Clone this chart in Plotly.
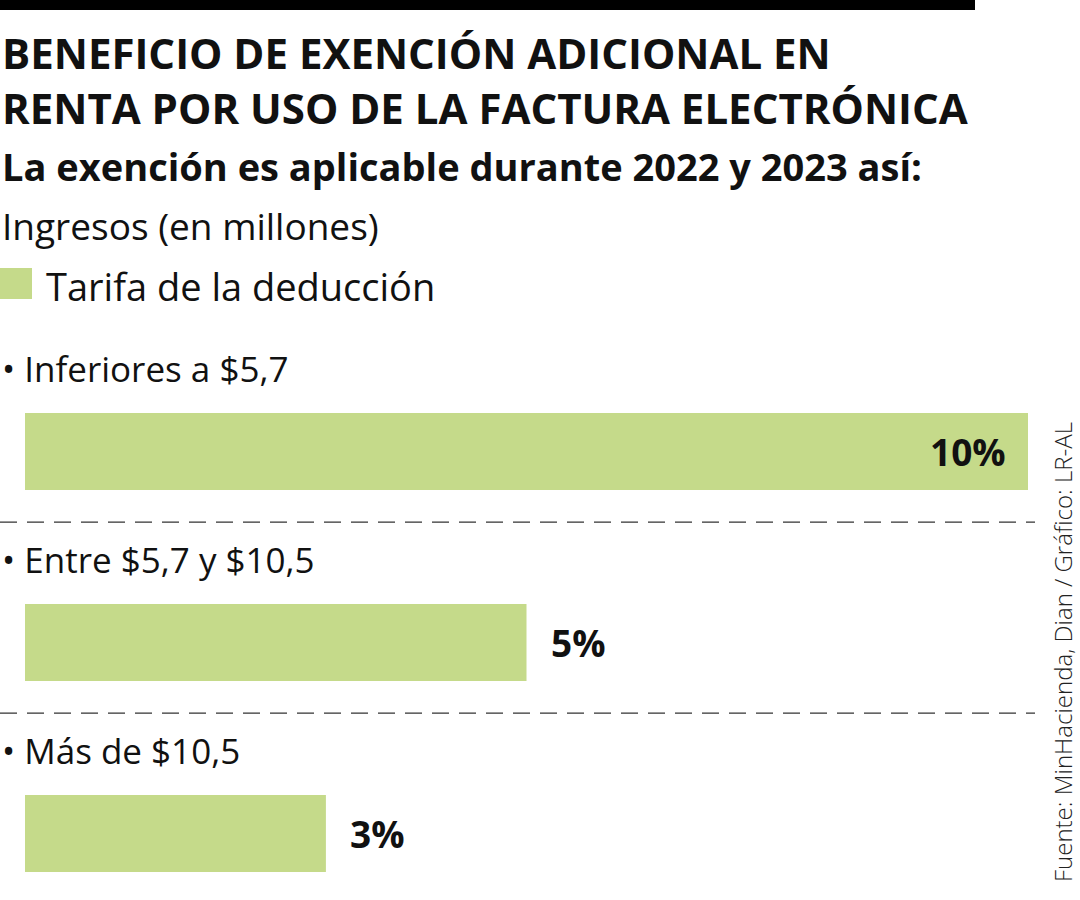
import plotly.graph_objects as go

# datos del grafico
categorias = ['• Inferiores a $5,7', '• Entre $5,7 y $10,5', '• Más de $10,5']
tarifas = [10, 5, 3]
etiquetas = ['10%', '5%', '3%']

VERDE = '#c5da8a'
W, H = 1080, 900
L, R, T, B = 25, 52, 356, 0  # margenes en px


def px_x(px):  # pixel horizontal -> paper
    return (px - L) / (W - L - R)


def px_y(py):  # pixel vertical -> paper
    return (H - B - py) / (H - T - B)


fig = go.Figure(go.Bar(
    x=tarifas,
    y=list(range(len(categorias))),
    orientation='h',
    width=0.403,
    marker=dict(color=VERDE, line=dict(width=0)),
    hoverinfo='skip'))

anotaciones = []
for i, (cat, val, lab) in enumerate(zip(categorias, tarifas, etiquetas)):
    # etiqueta de categoria sobre cada barra
    anotaciones.append(dict(x=0, y=i, xref='x', yref='y', text=cat, showarrow=False,
                            xanchor='left', yanchor='middle', xshift=-25, yshift=83,
                            font=dict(family='Open Sans', size=35, color='#111')))
    # valor: dentro de la barra si es la mas larga
    if val == max(tarifas):
        anotaciones.append(dict(x=val, y=i, xref='x', yref='y', text='<b>' + lab + '</b>',
                                showarrow=False, xanchor='right', xshift=-20,
                                font=dict(family='Open Sans', size=37, color='#111')))
    else:
        anotaciones.append(dict(x=val, y=i, xref='x', yref='y', text='<b>' + lab + '</b>',
                                showarrow=False, xanchor='left', xshift=22,
                                font=dict(family='Open Sans', size=37, color='#111')))

textos = [
    ('<b>BENEFICIO DE EXENCIÓN ADICIONAL EN<br>RENTA POR USO DE LA FACTURA ELECTRÓNICA</b>', 80, 42),
    ('<b>La exención es aplicable durante 2022 y 2023 así:</b>', 166, 38),
    ('Ingresos (en millones)', 225, 37),
]
for txt, py, size in textos:
    anotaciones.append(dict(x=px_x(0), y=px_y(py), xref='paper', yref='paper', text=txt,
                            showarrow=False, xanchor='left', yanchor='middle', align='left',
                            font=dict(family='Open Sans', size=size, color='#111')))

anotaciones.append(dict(x=px_x(44), y=px_y(286), xref='paper', yref='paper',
                        text='Tarifa de la deducción', showarrow=False,
                        xanchor='left', yanchor='middle',
                        font=dict(family='Open Sans', size=38, color='#111')))

anotaciones.append(dict(x=px_x(1062), y=px_y(652), xref='paper', yref='paper',
                        text='Fuente: MinHacienda, Dian / Gráfico: LR-AL', showarrow=False,
                        textangle=-90, xanchor='center', yanchor='middle',
                        font=dict(family='Open Sans', size=24, weight=300, color='#222')))

formas = [
    # barra negra superior
    dict(type='rect', xref='paper', yref='paper', x0=px_x(0), x1=px_x(975),
         y0=px_y(0), y1=px_y(10), fillcolor='black', line=dict(width=0)),
    # cuadro de leyenda
    dict(type='rect', xref='paper', yref='paper', x0=px_x(0), x1=px_x(32),
         y0=px_y(268), y1=px_y(299), fillcolor=VERDE, line=dict(width=0)),
]
# lineas punteadas entre grupos
for i in range(len(categorias) - 1):
    formas.append(dict(type='line', xref='paper', yref='y', x0=px_x(0), x1=px_x(1035),
                       y0=i + 0.37, y1=i + 0.37,
                       line=dict(color='#333', width=1.3, dash='17px,10px')))

fig.update_layout(
    width=W, height=H,
    margin=dict(l=L, r=R, t=T, b=B, pad=0),
    paper_bgcolor='white', plot_bgcolor='white',
    showlegend=False,
    xaxis=dict(range=[0, 10], visible=False, fixedrange=True),
    yaxis=dict(range=[2.348, -0.5], visible=False, fixedrange=True),
    annotations=anotaciones,
    shapes=formas)

fig.write_html('out.html', config={'displayModeBar': False},
               post_script="document.body.style.margin='0';document.body.style.overflow='hidden';")
